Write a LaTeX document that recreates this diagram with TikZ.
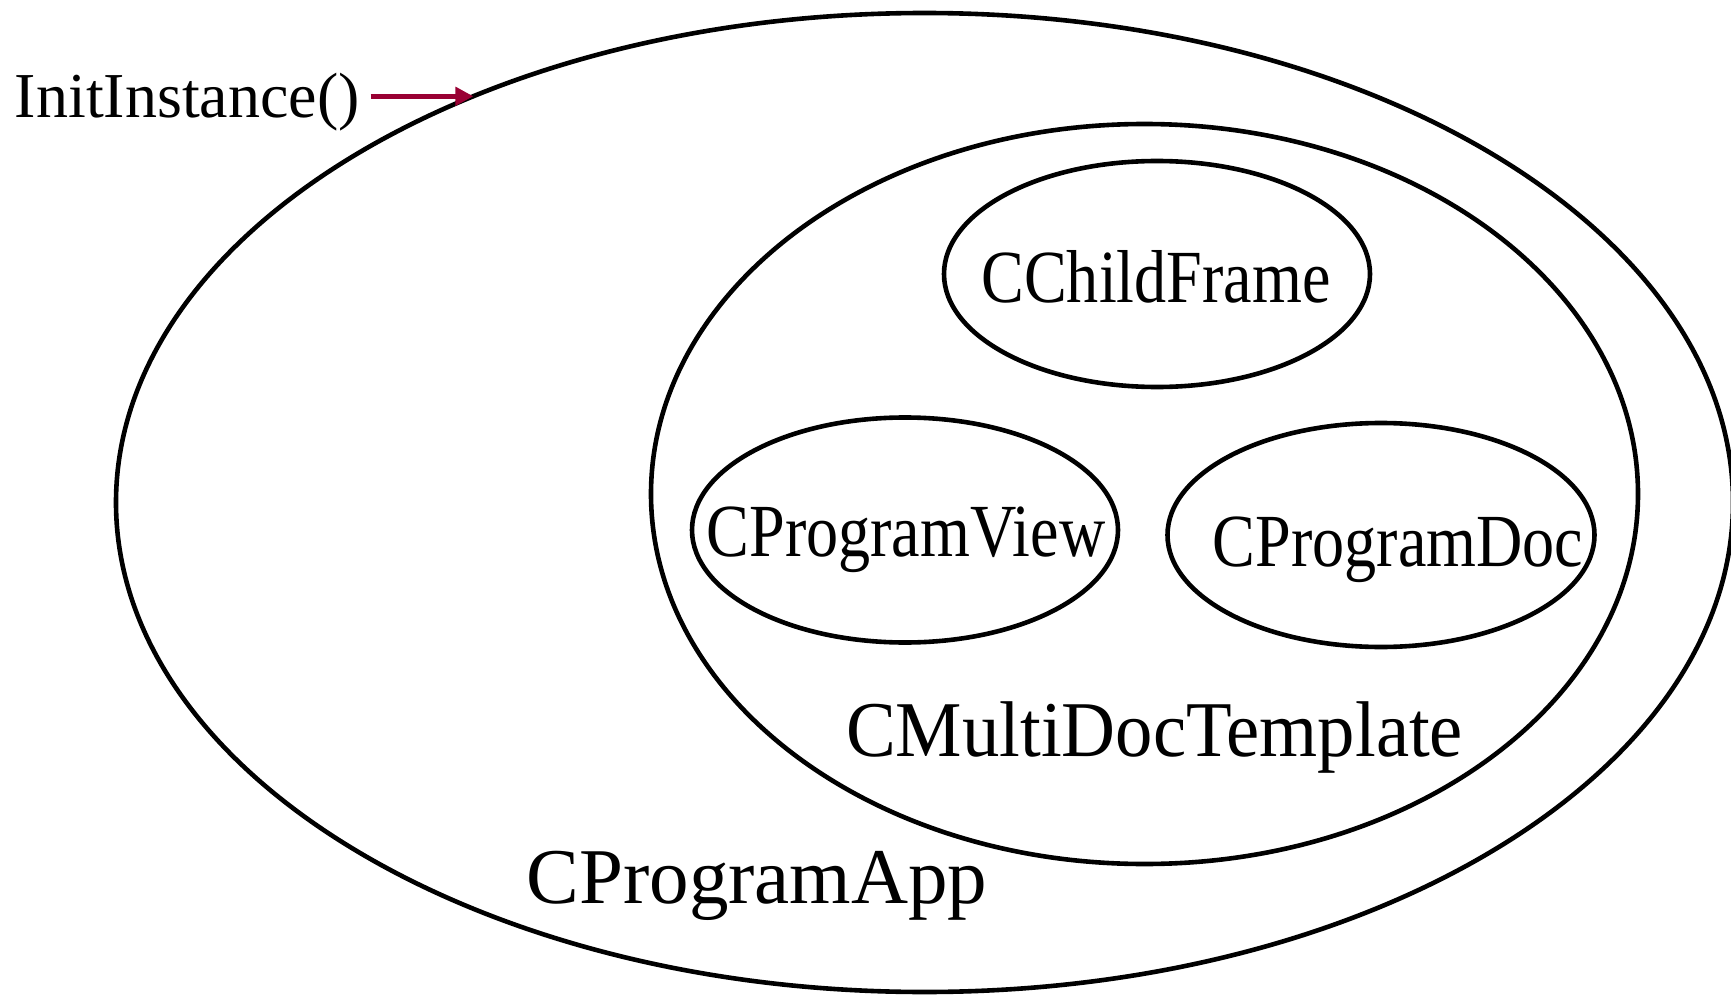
\documentclass[tikz,border=0pt]{standalone}
\usepackage{fontspec}
\setmainfont{Liberation Serif}
\newfontfamily\narrowserif[FakeStretch=0.855]{Liberation Serif}
\newfontfamily\midserif[FakeStretch=0.945]{Liberation Serif}
\usetikzlibrary{shapes.geometric,arrows.meta}
\definecolor{initred}{RGB}{153,0,51}

\begin{document}
\begin{tikzpicture}[x=0.5pt, y=-0.5pt, inner sep=0pt, outer sep=0pt,
      ring/.style={draw=black, ellipse, line width=2.3pt},
      classname/.style={anchor=base, font=\narrowserif\fontsize{37.5}{40}\selectfont},
      initarrow/.style={draw=initred, line width=2.4pt, -{Triangle[length=9pt, width=9pt]}}]
      \useasboundingbox (0,0) rectangle (1731,995);

      % nested objects
      \node[ring, name=app, minimum width=808.5pt, minimum height=489.5pt] at (924.5,502.5) {};
      \node[ring, name=tmpl, minimum width=493.5pt, minimum height=370pt] at (1144.5,494) {};
      \node[ring, name=frame, minimum width=213pt, minimum height=113pt] at (1157,274) {};
      \node[ring, name=view, minimum width=213pt, minimum height=112.5pt] at (905,530) {};
      \node[ring, name=doc, minimum width=213.5pt, minimum height=112pt] at (1381,535) {};

      % labels
      \node[classname, name=framelbl] at (1156,302) {CChildFrame};
      \node[classname, name=viewlbl] at (906,556) {CProgramView};
      \node[classname, name=doclbl] at (1398,566) {CProgramDoc};
      \node[anchor=base, name=tmpllbl, font=\midserif\fontsize{39.5}{42}\selectfont] at (1154.5,756) {CMultiDocTemplate};
      \node[anchor=base, name=applbl, font=\fontsize{39.5}{42}\selectfont] at (757,903) {CProgramApp};
      \node[anchor=base west, name=init, inner xsep=5.5pt, font=\fontsize{32}{35}\selectfont] at (4,118) {InitInstance()};

      \coordinate (hit) at (app.138);
      \draw[initarrow] (init.east |- hit) -- (hit);
\end{tikzpicture}
\end{document}
